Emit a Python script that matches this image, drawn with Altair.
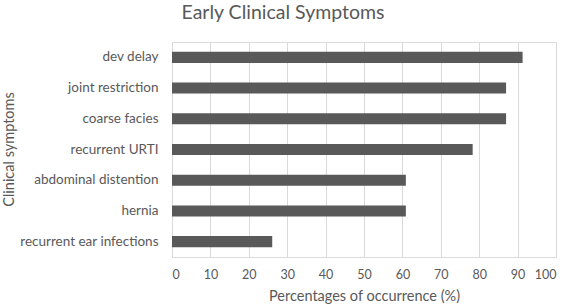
import altair as alt
import pandas as pd

symptoms = ["dev delay", "joint restriction", "coarse facies", "recurrent URTI",
            "abdominal distention", "hernia", "recurrent ear infections"]
percentages = [91.3, 87.0, 87.0, 78.3, 60.9, 60.9, 26.1]
x_ticks = [0, 10, 20, 30, 40, 50, 60, 70, 80, 90, 100]

df = pd.DataFrame({"symptom": symptoms, "pct": percentages})

FONT = "Lato"
GREY = "#595959"

chart = alt.Chart(df).mark_bar(color=GREY).encode(
    x=alt.X("pct:Q",
            scale=alt.Scale(domain=[0, 100], nice=False),
            axis=alt.Axis(values=x_ticks, title="Percentages of occurrence (%)",
                          grid=True, gridColor="#d9d9d9", domain=False, ticks=False,
                          labelPadding=11, labelFontSize=12.5, labelColor=GREY,
                          labelFont=FONT, titleFont=FONT, titleFontSize=14.5,
                          titleColor=GREY, titleFontWeight="normal", titlePadding=9)),
    y=alt.Y("symptom:N", sort=symptoms,
            scale=alt.Scale(paddingInner=0.64, paddingOuter=0.32),
            axis=alt.Axis(title="Clinical symptoms", domain=False, ticks=False, grid=False,
                          labelPadding=14, labelFontSize=13.5, labelColor=GREY,
                          labelFont=FONT, labelLimit=300, titleFont=FONT, titleFontSize=14.5,
                          titleColor=GREY, titleFontWeight="normal",
                          titleX=-156, titleY=107, titleAngle=-90, titleAlign="center")),
).properties(
    width=384,
    height=215,
    autosize=alt.AutoSizeParams(type="none"),
    padding={"left": 172, "top": 42, "right": 11, "bottom": 49},
    title=alt.TitleParams("Early Clinical Symptoms", font=FONT, fontSize=19.5,
                          fontWeight="normal", color=GREY, anchor="middle",
                          frame="group", dx=-81, offset=19),
).configure_view(stroke=None).configure(background="white")

chart.save("out.html", embed_options={"renderer": "svg", "actions": False})
